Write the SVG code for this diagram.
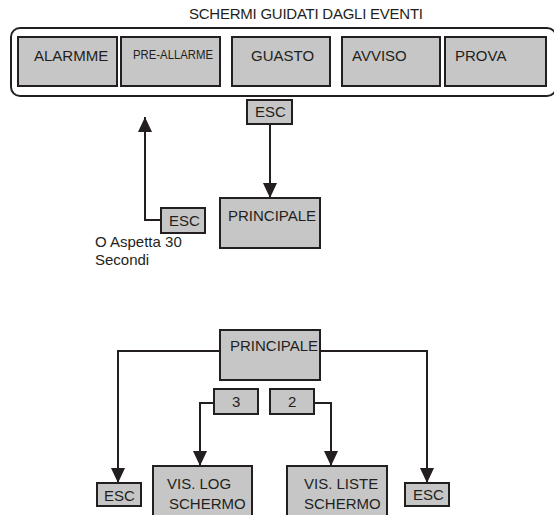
<svg xmlns="http://www.w3.org/2000/svg" width="554" height="515" viewBox="0 0 554 515">
<style>
.box{fill:#c6c6c6;stroke:#231f20;stroke-width:2}
.t{font-family:"Liberation Sans",Arial,sans-serif;font-size:15px;fill:#231f20}
.s{font-size:12px}
.ln{fill:none;stroke:#231f20;stroke-width:2}
</style>
<defs>
<marker id="ah" markerUnits="userSpaceOnUse" markerWidth="16" markerHeight="14" refX="15" refY="7" orient="auto">
<path d="M0,0 L15,7 L0,14 Z" fill="#231f20"/>
</marker>
</defs>
<rect width="554" height="515" fill="#ffffff"/>
<text class="t" x="189" y="19" font-size="14.5" textLength="234">SCHERMI GUIDATI DAGLI EVENTI</text>
<g id="container"><rect x="11" y="28" width="545" height="68" rx="9" fill="none" stroke="#231f20" stroke-width="2"/></g>
<g id="alarmme"><rect class="box" x="18" y="37" width="99" height="49"/><text class="t" x="34" y="61">ALARMME</text></g>
<g id="preallarme"><rect class="box" x="121" y="37" width="99" height="49"/><text class="t s" x="133" y="59" textLength="80" lengthAdjust="spacingAndGlyphs">PRE-ALLARME</text></g>
<g id="guasto"><rect class="box" x="232" y="37" width="98" height="49"/><text class="t" x="251" y="61">GUASTO</text></g>
<g id="avviso"><rect class="box" x="342" y="37" width="98" height="49"/><text class="t" x="352" y="61">AVVISO</text></g>
<g id="prova"><rect class="box" x="445" y="37" width="101" height="49"/><text class="t" x="455" y="61">PROVA</text></g>
<g id="esc-top"><rect class="box" x="247" y="100" width="45" height="24"/><text class="t" x="255" y="117">ESC</text></g>
<g id="principale-top"><rect class="box" x="220" y="198" width="100" height="50"/><text class="t" x="228" y="221">PRINCIPALE</text></g>
<g id="esc-back"><rect class="box" x="161" y="208" width="44" height="25"/><text class="t" x="169" y="226">ESC</text></g>
<g id="wait-note"><text class="t" x="95" y="247">O Aspetta 30</text><text class="t" x="95" y="265">Secondi</text></g>
<g id="principale-bottom"><rect class="box" x="220" y="330" width="100" height="50"/><text class="t" x="230" y="351">PRINCIPALE</text></g>
<g id="key3"><rect class="box" x="214" y="389" width="44" height="25"/><text class="t" x="232" y="407">3</text></g>
<g id="key2"><rect class="box" x="270" y="389" width="44" height="25"/><text class="t" x="288" y="407">2</text></g>
<g id="esc-left"><rect class="box" x="97" y="483" width="44" height="23"/><text class="t" x="104" y="501">ESC</text></g>
<g id="vis-log"><rect class="box" x="153" y="466" width="99" height="60"/><text class="t" x="167" y="489">VIS. LOG</text><text class="t" x="169" y="509">SCHERMO</text></g>
<g id="vis-liste"><rect class="box" x="287" y="466" width="100" height="60"/><text class="t" x="304" y="489">VIS. LISTE</text><text class="t" x="304" y="509">SCHERMO</text></g>
<g id="esc-right"><rect class="box" x="405" y="483" width="44" height="23"/><text class="t" x="413" y="500">ESC</text></g>
<g id="connectors">
<path class="ln" d="M270,124 V198" marker-end="url(#ah)"/>
<path class="ln" d="M161,220 H145 V117" marker-end="url(#ah)"/>
<path class="ln" d="M220,351 H118 V483" marker-end="url(#ah)"/>
<path class="ln" d="M320,351 H427 V483" marker-end="url(#ah)"/>
<path class="ln" d="M214,403 H200 V466" marker-end="url(#ah)"/>
<path class="ln" d="M314,403 H331 V466" marker-end="url(#ah)"/>
</g>
</svg>
